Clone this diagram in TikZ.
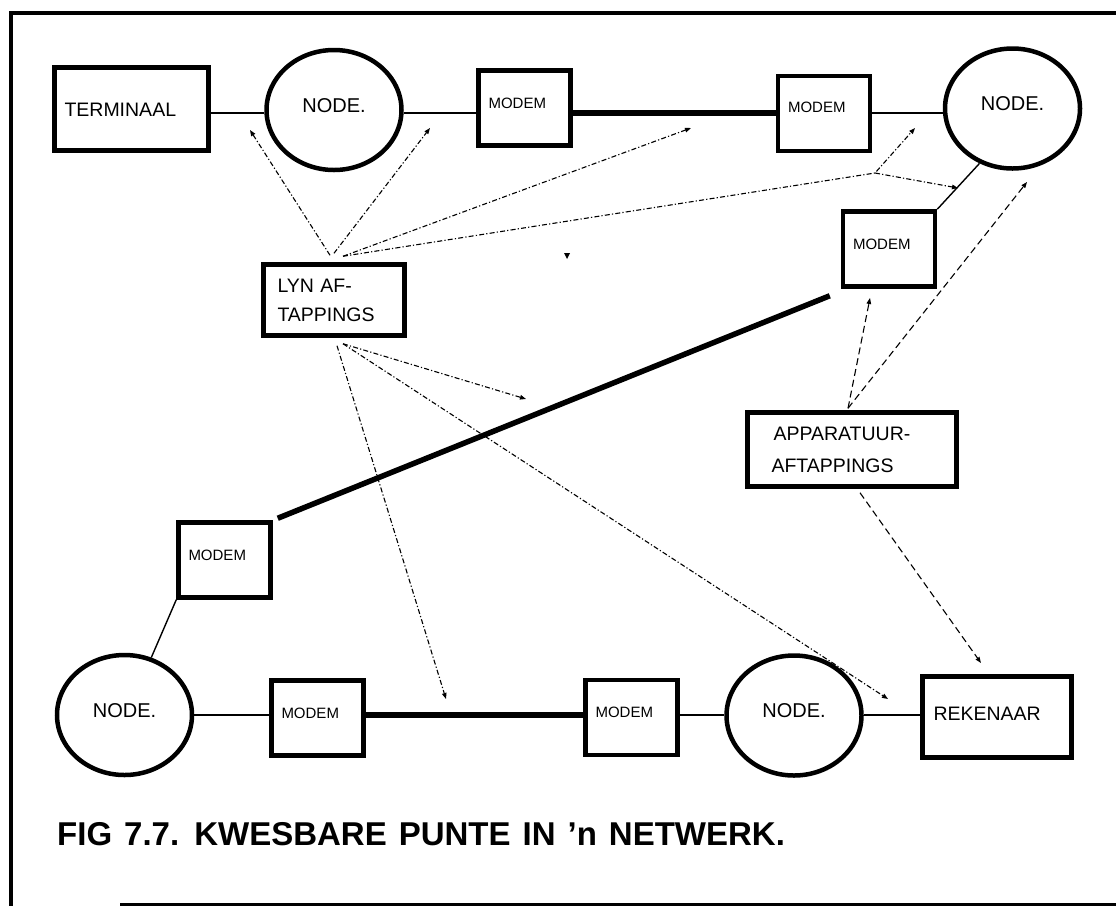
\documentclass[tikz,border=0pt]{standalone}
\usepackage{fontspec}
\setmainfont{Liberation Sans}
\usetikzlibrary{arrows.meta,shapes.geometric}

\tikzset{
  frame/.style={line width=4.5pt},
  wire/.style={line width=1.4pt},
  trunk/.style={line width=5.5pt},
  box/.style={draw, rectangle, line width=4.5pt, align=left, inner ysep=0pt},
  labelbox/.style={box, font=\fontsize{19.5}{28.5}\selectfont},
  modem/.style={box, font=\fontsize{15}{18}\selectfont, inner xsep=10pt,
    text width=72pt, minimum height=75pt, text height=0pt, text depth=0pt},
  hub/.style={draw, ellipse, line width=4.5pt, inner sep=0pt,
    minimum width=135pt, minimum height=120pt,
    font=\fontsize{20}{24}\selectfont, text height=4.3pt, text depth=0pt},
  tap/.style={line width=1.1pt, dash pattern=on 5pt off 2.2pt on 1.2pt off 2.2pt,
    -{Triangle[length=6pt,width=4.5pt]}},
  probe/.style={line width=1.1pt, dash pattern=on 7pt off 4pt,
    -{Triangle[length=6pt,width=4.5pt]}},
}

\begin{document}
\begin{tikzpicture}[x=1pt,y=-1pt]
\useasboundingbox (0,0) rectangle (1116,906);
\fill[white] (0,0) rectangle (1116,906);

% outer frame (open on the right)
\draw[frame] (9,13) -- (1116,13);
\draw[frame] (11,11) -- (11,906);
\draw[line width=3pt] (120,904) -- (1116,904);

% top row
\node[labelbox, inner xsep=10pt, text width=134pt, minimum height=83pt,
      text height=14pt, text depth=0pt] (term) at (131.5,109) {TERMINAAL};
\node[hub] (n1) at (334,110) {NODE.\hspace{12pt}};
\node[modem] (m1) at (524.5,108) {MODEM};
\node[modem, text height=0pt, text depth=3pt] (m2) at (824,113.5) {MODEM};
\node[hub] (n2) at (1012.5,108.5) {NODE.\hspace{12pt}};
\node[modem] (m3) at (889,249) {MODEM};

% long-distance side
\node[modem] (m4) at (224.5,560) {MODEM};

% bottom row
\node[hub] (n3) at (124.5,715) {NODE.\hspace{12pt}};
\node[modem] (m5) at (317.5,718) {MODEM};
\node[modem] (m6) at (631.5,717.5) {MODEM};
\node[hub] (n4) at (794,715.5) {NODE.\hspace{12pt}};
\node[labelbox, inner xsep=11pt, text width=127pt, minimum height=81pt,
      text height=6pt, text depth=0pt] (rek) at (997,717) {REKENAAR};

% tapping points
\node[labelbox, inner xsep=14pt, text width=113pt, minimum height=71pt,
      text height=14pt, text depth=28.5pt] (lyn) at (334,300) {LYN AF-\\TAPPINGS};
\node[labelbox, inner xsep=24pt, text width=161pt, minimum height=74pt,
      text height=14pt, text depth=32pt] (app) at (852,449.5)
      {\hspace{2pt}APPARATUUR-\\[3.5pt]AFTAPPINGS};

% network links
\coordinate (toprow) at (0,113);
\coordinate (botrow) at (0,715);
\draw[wire]  (term.east |- toprow) -- (n1.west |- toprow);
\draw[wire]  (n1.east |- toprow) -- (m1.west |- toprow);
\draw[trunk] (m1.east |- toprow) -- (m2.west |- toprow);
\draw[wire]  (m2.east |- toprow) -- (n2.west |- toprow);
\draw[wire]  (n2.239) -- (m3.north east);
\draw[trunk] ([shift={(5,-2)}]m4.north east) -- ([shift={(-11,7)}]m3.south west);
\draw[wire]  (m4.south west) -- (n3.65);
\draw[wire]  (n3.east |- botrow) -- (m5.west |- botrow);
\draw[trunk] (m5.east |- botrow) -- (m6.west |- botrow);
\draw[wire]  (m6.east |- botrow) -- (n4.west |- botrow);
\draw[wire]  (n4.east |- botrow) -- (rek.west |- botrow);

% line tapping targets
\coordinate (tipA) at (250,130);
\coordinate (tipB) at (430,128);
\coordinate (tipC) at (691,128);
\coordinate (fork) at (875,173);
\coordinate (tipD) at (915,128);
\coordinate (tipE) at (958,188);
\coordinate (tipF) at (526,399);
\coordinate (tipG) at (446,699);
\coordinate (tipH) at (888,699);

\draw[tap] ([shift={(-4,-7)}]lyn.north) -- (tipA);
\draw[tap] ([shift={(0,-9)}]lyn.north) -- (tipB);
\draw[tap] ([shift={(9,-6)}]lyn.north) -- (tipC);
\draw[tap] ([shift={(9,-6)}]lyn.north) -- (fork) -- (tipD);
\draw[tap] (fork) -- (tipE);
\draw[tap] ([shift={(9,6)}]lyn.south) -- (tipF);
\draw[tap] ([shift={(3,8)}]lyn.south) -- (tipG);
\draw[tap] ([shift={(9,6)}]lyn.south) -- (tipH);

% equipment tapping targets
\coordinate (tipI) at (870,298);
\coordinate (tipJ) at (1027,182);
\coordinate (tipK) at (981,663);
\draw[probe] ([shift={(-4,-2)}]app.north) -- (tipI);
\draw[probe] ([shift={(-4,-2)}]app.north) -- (tipJ);
\draw[probe] ([shift={(8,4)}]app.south) -- (tipK);

% small stray tip mark
\fill (564,253) -- (570,253) -- (567,259) -- cycle;

% caption
\node[anchor=base west, inner sep=0pt, font=\bfseries\fontsize{33}{36}\selectfont]
  (caption) at (57,845) {\spaceskip=12pt FIG 7.7. KWESBARE PUNTE IN ’n NETWERK.};
\end{tikzpicture}
\end{document}
